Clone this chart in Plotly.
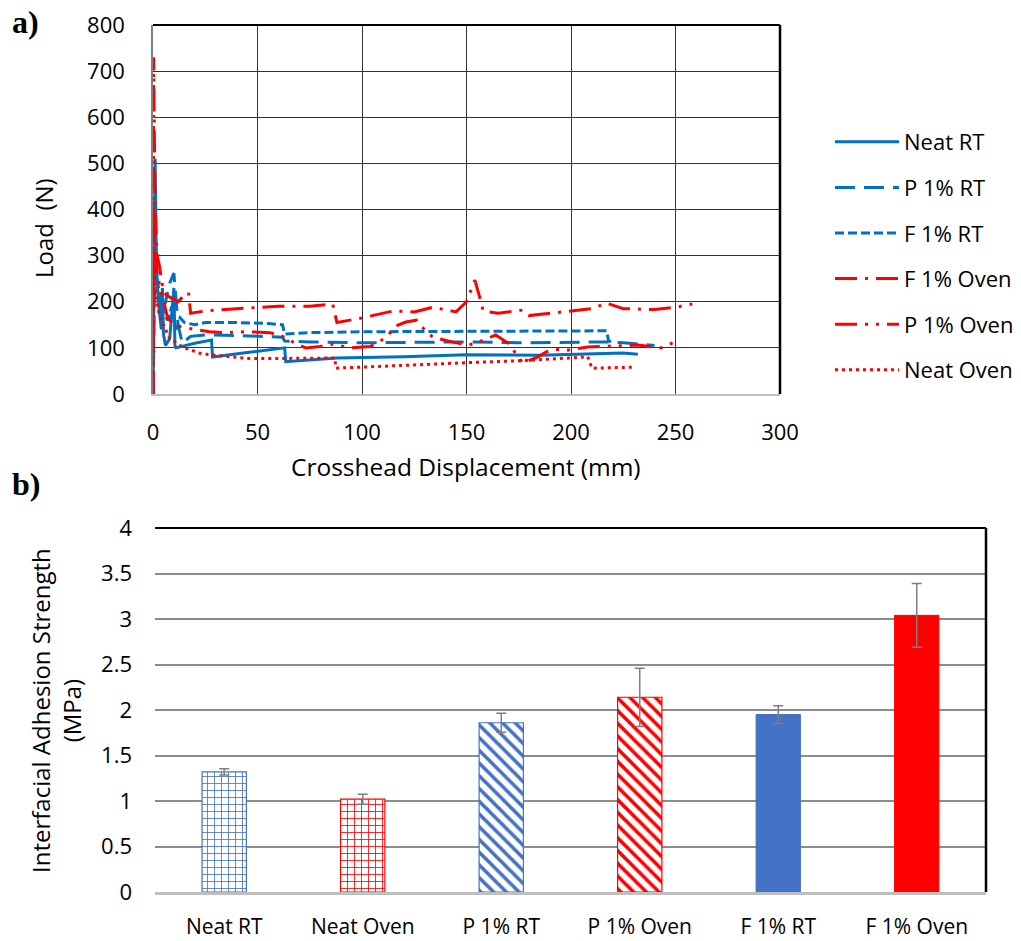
import plotly.graph_objects as go

# ---- a) load vs crosshead displacement ----
neat_rt_x = [0, 0.5, 1, 1.5, 2, 3, 4, 4.5, 5, 6, 8, 10, 10.5, 11, 20, 28, 28.5, 45, 63, 63.5, 88, 120, 150, 185, 200, 215, 225, 232]
neat_rt_y = [0, 300, 510, 330, 240, 180, 140, 230, 130, 105, 120, 230, 105, 100, 110, 117, 80, 90, 100, 70, 78, 81, 85, 84, 86, 88, 89, 86]

p1_rt_x = [0, 0.5, 1, 2, 3, 4, 6, 8, 10, 11, 12, 13, 14, 18, 25, 40, 55, 62, 63, 75, 100, 125, 150, 175, 200, 218, 225, 240]
p1_rt_y = [0, 200, 300, 230, 200, 170, 200, 240, 262, 200, 150, 130, 110, 125, 128, 127, 125, 123, 115, 113, 111, 112, 113, 111, 113, 113, 111, 105]

f1_rt_x = [0, 0.5, 1, 2, 3, 5, 7, 9, 11, 13, 15, 20, 25, 40, 55, 62, 63, 75, 100, 150, 200, 217, 218, 220]
f1_rt_y = [0, 420, 300, 250, 220, 175, 160, 190, 140, 165, 155, 150, 155, 155, 153, 150, 130, 133, 135, 136, 137, 137, 115, 113]

f1_oven_x = [0, 0.3, 1, 2, 3, 5, 8, 12, 15, 17, 18, 25, 40, 60, 75, 86, 88, 100, 115, 125, 134, 145, 150, 154, 156, 158, 165, 177, 180, 195, 210, 217, 225, 240, 250, 258]
f1_oven_y = [0, 730, 400, 300, 280, 220, 210, 200, 215, 220, 175, 180, 185, 190, 190, 195, 155, 165, 180, 178, 188, 178, 200, 247, 215, 180, 175, 182, 170, 177, 185, 197, 185, 183, 188, 195]

p1_oven_x = [0, 0.3, 1, 2, 3, 5, 7, 10, 14, 20, 27, 35, 45, 56, 62, 68, 73, 80, 86, 95, 104, 111, 117, 121, 126, 130, 134, 143, 151, 156, 164, 170, 177, 184, 188, 192, 198, 208, 221, 232, 243, 252]
p1_oven_y = [0, 380, 300, 260, 240, 200, 165, 150, 145, 140, 135, 133, 135, 133, 125, 110, 100, 103, 108, 100, 103, 121, 149, 156, 160, 139, 123, 113, 106, 113, 128, 110, 67, 80, 91, 97, 95, 102, 104, 106, 100, 117]

neat_oven_x = [0, 0.3, 1, 3, 5, 8, 14, 22, 27, 38, 46, 60, 78, 87, 87.5, 100, 125, 156, 175, 199, 208, 210, 220, 230]
neat_oven_y = [0, 280, 230, 170, 150, 120, 102, 89, 85, 80, 77, 77, 77, 78, 56, 58, 63, 69, 72, 78, 81, 56, 57, 58]

x_ticks_a = [0, 50, 100, 150, 200, 250, 300]
y_ticks_a = [0, 100, 200, 300, 400, 500, 600, 700, 800]

# ---- b) interfacial adhesion strength ----
samples = ["Neat RT", "Neat Oven", "P 1% RT", "P 1% Oven", "F 1% RT", "F 1% Oven"]
strength = [1.32, 1.02, 1.86, 2.14, 1.95, 3.04]
strength_err = [0.035, 0.055, 0.105, 0.32, 0.097, 0.35]
y_ticks_b = [0, 0.5, 1, 1.5, 2, 2.5, 3, 3.5, 4]
y_tick_text_b = ["0", "0.5", "1", "1.5", "2", "2.5", "3", "3.5", "4"]

BLUE_LINE = "#0070C0"
RED = "#FF0000"
BLUE_BAR = "#4472C4"
FONT = "Open Sans"

# fill style per sample: (colour, hatch shape; "" = solid)
bar_styles = [
    (BLUE_BAR, "+"),
    (RED, "+"),
    (BLUE_BAR, "\\"),
    (RED, "\\"),
    (BLUE_BAR, ""),
    (RED, ""),
]

W, H = 1021, 941


def px_x(p):
    return p / W


def px_y(p):
    return 1 - p / H


fig = go.Figure()

series = [
    ("Neat RT", neat_rt_x, neat_rt_y, BLUE_LINE, "solid"),
    ("P 1% RT", p1_rt_x, p1_rt_y, BLUE_LINE, "20px,9px"),
    ("F 1% RT", f1_rt_x, f1_rt_y, BLUE_LINE, "9px,4px"),
    ("F 1% Oven", f1_oven_x, f1_oven_y, RED, "22px,8px,3px,8px"),
    ("P 1% Oven", p1_oven_x, p1_oven_y, RED, "22px,8px,3px,8px,3px,8px"),
    ("Neat Oven", neat_oven_x, neat_oven_y, RED, "3px,4px"),
]
for name, xs, ys, col, dash in series:
    fig.add_trace(go.Scatter(
        x=xs, y=ys, name=name, mode="lines", legendgroup=name,
        line=dict(color=col, width=3, dash=dash),
        xaxis="x", yaxis="y",
    ))

for i, (sample, (col, shape)) in enumerate(zip(samples, bar_styles)):
    if shape:
        marker = dict(
            color="white",
            line=dict(color=col, width=1.2),
            pattern=dict(shape=shape, fgcolor=col, bgcolor="white",
                         fillmode="replace",
                         size=7 if shape == "+" else 9,
                         solidity=0.22 if shape == "+" else 0.4),
        )
    else:
        marker = dict(color=col, line=dict(color=col, width=1))
    fig.add_trace(go.Bar(
        x=[sample], y=[strength[i]], xaxis="x2", yaxis="y2",
        showlegend=False, width=0.32, marker=marker,
        error_y=dict(type="data", array=[strength_err[i]], visible=True,
                     color="#7F7F7F", thickness=1.5, width=5),
    ))

fig.update_layout(
    width=W, height=H,
    margin=dict(l=0, r=0, t=0, b=0, autoexpand=False),
    paper_bgcolor="white", plot_bgcolor="white",
    font=dict(family=FONT, size=22, color="black"),
    showlegend=True,
    barmode="overlay",
    legend=dict(
        x=px_x(830), y=px_y(121), xanchor="left", yanchor="top",
        traceorder="grouped", tracegroupgap=14, itemwidth=64,
        font=dict(family=FONT, size=22, color="black"),
        bgcolor="rgba(0,0,0,0)",
    ),
    xaxis=dict(
        domain=[px_x(153), px_x(780)], range=[0, 300], tickvals=x_ticks_a,
        showgrid=True, gridcolor="#333333", gridwidth=1.2,
        showline=True, linecolor="#BFBFBF", linewidth=2,
        zeroline=False, ticks="", ticklabelstandoff=18, anchor="y",
        tickfont=dict(size=22),
    ),
    yaxis=dict(
        domain=[px_y(394), px_y(25)], range=[0, 800], tickvals=y_ticks_a,
        showgrid=True, gridcolor="#333333", gridwidth=1.2,
        showline=True, linecolor="#808080", linewidth=1.5,
        zeroline=False, ticks="", ticklabelstandoff=22, anchor="x",
        tickfont=dict(size=22),
    ),
    xaxis2=dict(
        domain=[px_x(155), px_x(986)], anchor="y2",
        showgrid=False, showline=True, linecolor="#BFBFBF", linewidth=2.5,
        ticks="", ticklabelstandoff=14, tickfont=dict(size=21),
    ),
    yaxis2=dict(
        domain=[px_y(892), px_y(528)], range=[0, 4], anchor="x2",
        tickvals=y_ticks_b, ticktext=y_tick_text_b,
        showgrid=True, gridcolor="#8C8C8C", gridwidth=1.5,
        showline=False, zeroline=False, ticks="", ticklabelstandoff=22,
        tickfont=dict(size=22),
    ),
)

# frame edges (top and right) of both plot areas
for xr, yr in (("x domain", "y domain"), ("x2 domain", "y2 domain")):
    fig.add_shape(type="line", xref=xr, yref=yr, x0=0, x1=1, y0=1, y1=1,
                  line=dict(color="black", width=2))
    fig.add_shape(type="line", xref=xr, yref=yr, x0=1, x1=1, y0=0, y1=1,
                  line=dict(color="black", width=2.5))

annotations = [
    dict(text="<b>a)</b>", x=px_x(10), y=px_y(22), xanchor="left", yanchor="middle",
         font=dict(family="Liberation Serif", size=32)),
    dict(text="<b>b)</b>", x=px_x(10), y=px_y(484), xanchor="left", yanchor="middle",
         font=dict(family="Liberation Serif", size=32)),
    dict(text="Load  (N)", x=px_x(43), y=px_y(228), textangle=-90,
         xanchor="center", yanchor="middle", font=dict(size=24)),
    dict(text="Crosshead Displacement (mm)", x=px_x(466), y=px_y(466),
         xanchor="center", yanchor="middle", font=dict(size=24.5)),
    dict(text="Interfacial Adhesion Strength<br>(MPa)", x=px_x(56), y=px_y(711),
         textangle=-90, xanchor="center", yanchor="middle", font=dict(size=24)),
]
for a in annotations:
    a.update(xref="paper", yref="paper", showarrow=False)
    fig.add_annotation(**a)

fig.write_html("out.html")
